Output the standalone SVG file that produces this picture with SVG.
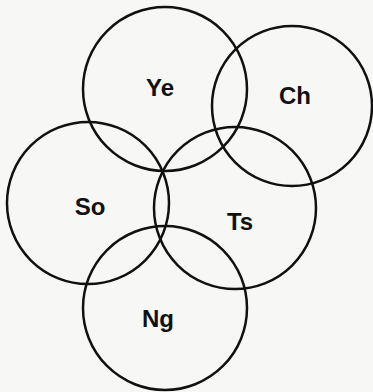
<svg xmlns="http://www.w3.org/2000/svg" width="373" height="392" viewBox="0 0 373 392">
<style>
circle{fill:none;stroke:#111;stroke-width:2.5}
text{font-family:"Liberation Sans Narrow","Liberation Sans",sans-serif;font-size:24px;font-weight:bold;fill:#111;text-anchor:middle}
</style>
<rect width="373" height="392" fill="#f7f7f5"/>
<g id="Ye"><circle cx="165" cy="89" r="82"/><text x="160" y="96">Ye</text></g>
<g id="Ch"><circle cx="292" cy="106" r="80"/><text x="295" y="104">Ch</text></g>
<g id="So"><circle cx="88" cy="203" r="81"/><text x="90" y="215">So</text></g>
<g id="Ts"><circle cx="235" cy="208" r="81"/><text x="240" y="230">Ts</text></g>
<g id="Ng"><circle cx="165" cy="308" r="82"/><text x="158" y="327">Ng</text></g>
<g id="connectors"></g>
</svg>
